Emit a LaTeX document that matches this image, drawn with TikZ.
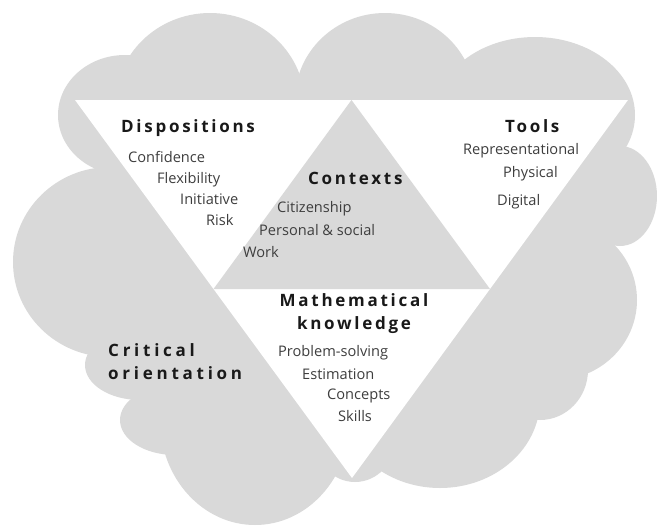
\documentclass[tikz,border=0pt]{standalone}
\usepackage{fontspec}
\setmainfont{Open Sans}
\newfontfamily\headfont[LetterSpace=16]{Open Sans}
\newfontfamily\wideheadfont[LetterSpace=22]{Open Sans}
\usepackage{xcolor}
\definecolor{cloudgrey}{RGB}{217,217,217}
\definecolor{headink}{RGB}{25,25,25}
\definecolor{itemink}{RGB}{62,62,62}
\usetikzlibrary{calc}
\tikzset{
    common/.style={anchor=base west, inner sep=0pt},
    heading/.style={common, font=\headfont\bfseries\fontsize{17}{20}\selectfont, text=headink},
    wideheading/.style={heading, font=\wideheadfont\bfseries\fontsize{17}{20}\selectfont},
    entry/.style={common, font=\fontsize{14.6}{17}\selectfont, text=itemink},
    cloud/.style={fill=cloudgrey},
    corner/.style={fill=white}
}

\begin{document}
\begin{tikzpicture}[x=1pt, y=-1pt]
    \useasboundingbox (0,0) rectangle (657,528);
    % cloud made of overlapping bumps
    \fill[cloud] (125,115) -- (210,105) -- (385,100) -- (535,115) -- (620,196)
        -- (555,300) -- (540,370) -- (440,400) -- (355,440) -- (255,420)
        -- (175,420) -- (140,365) -- (110,262) -- cycle;
    \fill[cloud] (125,115) ellipse (67 and 60);
    \fill[cloud] (210,105) ellipse (95 and 92);
    \fill[cloud] (385,100) ellipse (90 and 87);
    \fill[cloud] (535,115) ellipse (100 and 78);
    \fill[cloud] (620,196) ellipse (37 and 50);
    \fill[cloud] (555,300) ellipse (82 and 80);
    \fill[cloud] (540,370) ellipse (48 and 50);
    \fill[cloud] (440,400) ellipse (100 and 88);
    \fill[cloud] (355,440) ellipse (40 and 42);
    \fill[cloud] (255,420) ellipse (95 and 105);
    \fill[cloud] (175,420) ellipse (55 and 35);
    \fill[cloud] (140,365) ellipse (55 and 35);
    \fill[cloud] (110,262) ellipse (97 and 95);

    % big triangle, split in four
    \coordinate (tl) at (75,100);
    \coordinate (tr) at (628,100);
    \coordinate (bt) at (352,478);
    \fill[corner] (tl) -- (tr) -- (bt) -- cycle;
    \fill[cloud] ($(tl)!.5!(bt)$) -- ($(tl)!.5!(tr)$) -- ($(tr)!.5!(bt)$) -- cycle;

    \node[heading] (disp) at (121,132) {Dispositions};
    \node[entry] (conf) at (128,162) {Confidence};
    \node[entry] (flex) at (157,183) {Flexibility};
    \node[entry] (init) at (180,204) {Initiative};
    \node[entry] (risk) at (206,225) {Risk};

    \node[heading] (ctx) at (308,184) {Contexts};
    \node[entry] (citz) at (277,212) {Citizenship};
    \node[entry] (pers) at (259,235) {Personal \& social};
    \node[entry] (work) at (243,257) {Work};

    \node[heading] (tools) at (505,132) {Tools};
    \node[entry] (repr) at (463,154) {Representational};
    \node[entry] (phys) at (503,177) {Physical};
    \node[entry] (digi) at (497,205) {Digital};

    \node[heading, anchor=base] (math) at (354,306) {Mathematical};
    \node[heading, anchor=base] (know) at (354,329) {knowledge};
    \node[entry] (prob) at (278,356) {Problem-solving};
    \node[entry] (esti) at (302,379) {Estimation};
    \node[entry] (conc) at (327,399) {Concepts};
    \node[entry] (skil) at (338,421) {Skills};

    \node[wideheading] (crit) at (108,356) {Critical};
    \node[wideheading] (orie) at (108,379) {orientation};
\end{tikzpicture}
\end{document}
